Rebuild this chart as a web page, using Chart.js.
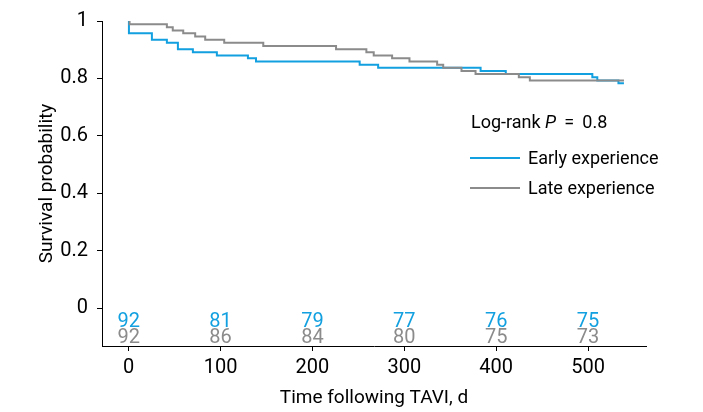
<!DOCTYPE html>
<html>
<head>
<meta charset="utf-8">
<script src="https://cdn.jsdelivr.net/npm/chart.js@4"></script>
<style>
  body { margin: 0; background: #fff; }
</style>
</head>
<body>
<canvas id="km" width="703" height="412"></canvas>
<script>
// Kaplan-Meier steps (time in days, survival)
const timeEarly = [0, 0.3, 25.3, 41.6, 53.6, 69.9, 96, 129.8, 138.6, 251.4, 271.5, 383, 410.4, 504.6, 510, 533, 539];
const survEarly = [1, 0.957, 0.935, 0.924, 0.902, 0.891, 0.880, 0.870, 0.859, 0.848, 0.837, 0.826, 0.815, 0.804, 0.793, 0.783, 0.783];

const timeLate = [0, 1, 41.6, 48, 59.4, 72.4, 83.3, 104, 146.5, 225.7, 258.7, 266.7, 286.7, 305.6, 335.7, 342.3, 362.2, 377.5, 424.6, 436.6, 539];
const survLate = [1, 0.989, 0.978, 0.967, 0.957, 0.946, 0.935, 0.924, 0.913, 0.902, 0.891, 0.880, 0.870, 0.859, 0.848, 0.837, 0.826, 0.815, 0.804, 0.793, 0.793];

// numbers at risk
const riskTimes = [0, 100, 200, 300, 400, 500];
const riskEarly = [92, 81, 79, 77, 76, 75];
const riskLate = [92, 86, 84, 80, 75, 73];

const xTicks = [0, 100, 200, 300, 400, 500];
const yTicks = [0, 0.2, 0.4, 0.6, 0.8, 1];

const BLUE = '#12a0e0';
const GRAY = '#8b8b8b';
const FAMILY = "Roboto, 'DejaVu Sans', sans-serif";

function pts(t, s) {
  return t.map((v, i) => ({ x: v, y: s[i] }));
}

// numbers at risk + legend text block
const extras = {
  id: 'extras',
  afterDraw(chart) {
    const ctx = chart.ctx;
    const x = chart.scales.x, y = chart.scales.y;
    ctx.save();
    ctx.font = '20px ' + FAMILY;
    ctx.textAlign = 'center';
    ctx.textBaseline = 'middle';
    riskTimes.forEach((t, i) => {
      const px = x.getPixelForValue(t);
      ctx.fillStyle = BLUE;
      ctx.fillText(riskEarly[i], px, y.getPixelForValue(-0.05));
      ctx.fillStyle = GRAY;
      ctx.fillText(riskLate[i], px, y.getPixelForValue(-0.104));
    });

    // Log-rank annotation
    ctx.textAlign = 'left';
    ctx.fillStyle = '#000';
    let lx = 471, ly = 123;
    ctx.font = '18px ' + FAMILY;
    ctx.fillText('Log-rank ', lx, ly);
    lx += ctx.measureText('Log-rank ').width;
    ctx.font = 'italic 18px ' + FAMILY;
    ctx.fillText('P', lx, ly);
    lx += ctx.measureText('P').width;
    ctx.font = '18px ' + FAMILY;
    ctx.fillText(' \u2009= \u20090.8', lx, ly);

    // legend
    const items = chart.data.datasets.slice().sort((a, b) => b.order - a.order);
    items.forEach((ds, i) => {
      const yy = 158 + i * 30;
      ctx.strokeStyle = ds.borderColor;
      ctx.lineWidth = 2;
      ctx.beginPath();
      ctx.moveTo(470, yy);
      ctx.lineTo(520, yy);
      ctx.stroke();
      ctx.fillStyle = '#000';
      ctx.fillText(ds.label, 528, yy + 1);
    });
    ctx.restore();
  }
};

new Chart(document.getElementById('km'), {
  type: 'line',
  data: {
    datasets: [
      {
        label: 'Early experience',
        data: pts(timeEarly, survEarly),
        borderColor: BLUE,
        borderWidth: 2,
        stepped: 'before',
        pointRadius: 0,
        fill: false,
        order: 1
      },
      {
        label: 'Late experience',
        data: pts(timeLate, survLate),
        borderColor: GRAY,
        borderWidth: 2,
        stepped: 'before',
        pointRadius: 0,
        fill: false,
        order: 0
      }
    ]
  },
  options: {
    responsive: false,
    animation: false,
    devicePixelRatio: 1,
    layout: { padding: { top: 12, right: 57, left: 0, bottom: 0 } },
    plugins: {
      legend: { display: false },
      tooltip: { enabled: false }
    },
    scales: {
      x: {
        type: 'linear',
        min: -29,
        max: 563,
        afterBuildTicks: s => { s.ticks = xTicks.map(v => ({ value: v })); },
        afterFit: s => { s.height = 66; },
        grid: { drawOnChartArea: false, tickLength: 5, color: '#000' },
        border: { color: '#000', width: 1 },
        ticks: { color: '#000', font: { family: FAMILY, size: 20 }, padding: 5, maxRotation: 0 },
        title: {
          display: true,
          text: 'Time following TAVI, d',
          color: '#000',
          font: { family: FAMILY, size: 19 },
          padding: { top: 0, bottom: 2 }
        }
      },
      y: {
        type: 'linear',
        min: -0.132,
        max: 1,
        afterBuildTicks: s => { s.ticks = yTicks.map(v => ({ value: v })); },
        afterFit: s => { s.width = 102; },
        grid: { drawOnChartArea: false, tickLength: 5, color: '#000' },
        border: { color: '#000', width: 1 },
        ticks: { color: '#000', font: { family: FAMILY, size: 20 }, padding: 9, callback: v => String(v) },
        title: {
          display: true,
          text: 'Survival probability',
          color: '#000',
          font: { family: FAMILY, size: 19 },
          padding: { top: 36, bottom: 0 }
        }
      }
    }
  },
  plugins: [extras]
});
</script>
</body>
</html>
